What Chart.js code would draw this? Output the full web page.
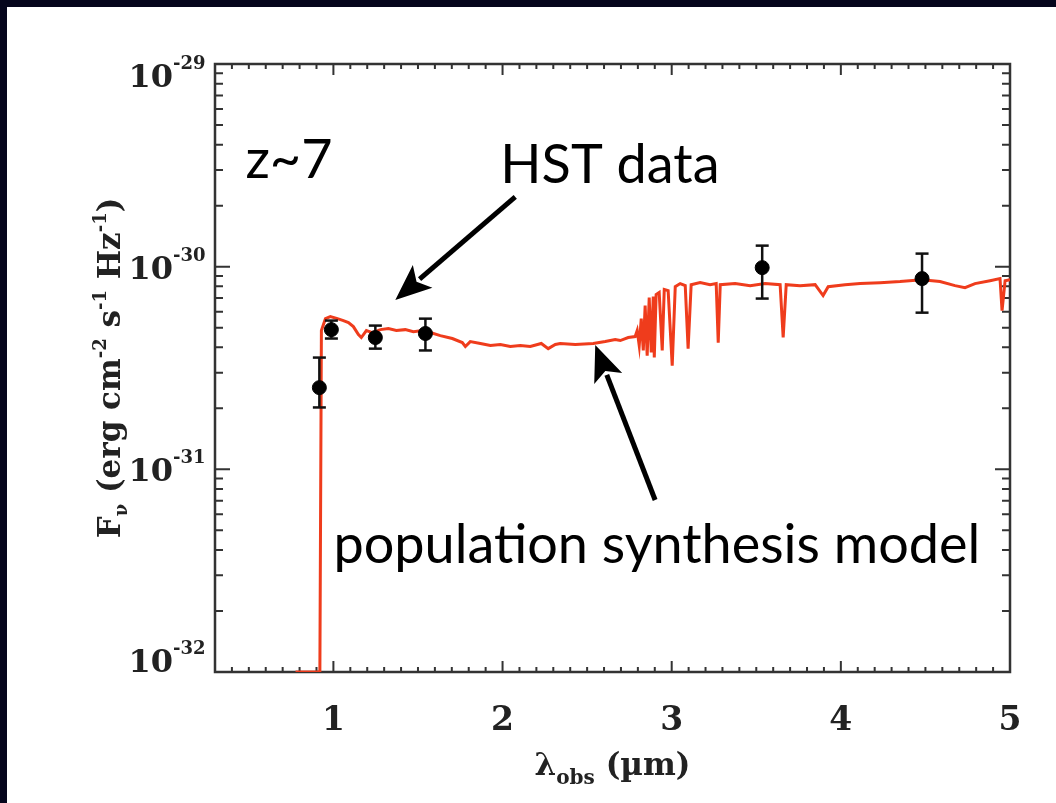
<!DOCTYPE html>
<html>
<head>
<meta charset="utf-8">
<script src="https://cdn.jsdelivr.net/npm/chart.js@4.4.0/dist/chart.umd.min.js"></script>
<style>
  html, body { margin: 0; padding: 0; width: 1056px; height: 803px; overflow: hidden; background: #05061c; }
  #panel { position: absolute; left: 7px; top: 7px; width: 1049px; height: 796px; background: #fff; }
  #panel canvas { display: block; }
</style>
</head>
<body>
<div id="panel"><canvas id="sedChart" width="1049" height="796"></canvas></div>
<script>
// model spectrum (wavelength in micron, flux in erg/cm2/s/Hz)
const modelWave = [
  0.776, 0.911, 0.920, 0.929, 0.953, 0.982, 1.024, 1.059, 1.089, 1.118,
  1.148, 1.165, 1.195, 1.230, 1.278, 1.325, 1.372, 1.425, 1.473, 1.526,
  1.573, 1.632, 1.703, 1.762, 1.780, 1.809, 1.869, 1.928, 1.987, 2.046,
  2.105, 2.164, 2.229, 2.270, 2.312, 2.341, 2.430, 2.536, 2.607, 2.666,
  2.696, 2.743, 2.784, 2.796, 2.808, 2.820, 2.832, 2.843, 2.855, 2.867,
  2.879, 2.891, 2.897, 2.908, 2.926, 2.944, 2.956, 2.979, 3.003, 3.021,
  3.050, 3.080, 3.097, 3.115, 3.168, 3.227, 3.263, 3.275, 3.287, 3.375,
  3.464, 3.552, 3.641, 3.659, 3.677, 3.759, 3.848, 3.895, 3.925, 4.025,
  4.114, 4.232, 4.350, 4.480, 4.586, 4.675, 4.734, 4.793, 4.882, 4.941,
  4.953, 4.971, 5.000
];
const modelFlux = [
  1e-32, 1e-32, 1e-32, 4.84e-31, 5.54e-31, 5.67e-31, 5.54e-31, 5.42e-31, 5.30e-31, 5.06e-31,
  4.62e-31, 4.47e-31, 4.84e-31, 4.73e-31, 4.89e-31, 4.95e-31, 4.84e-31, 4.89e-31, 4.78e-31, 4.84e-31,
  4.73e-31, 4.57e-31, 4.42e-31, 4.22e-31, 4.04e-31, 4.27e-31, 4.18e-31, 4.08e-31, 4.13e-31, 4.04e-31,
  4.08e-31, 4.04e-31, 4.18e-31, 3.94e-31, 4.13e-31, 4.18e-31, 4.13e-31, 4.18e-31, 4.27e-31, 4.37e-31,
  4.32e-31, 4.47e-31, 4.52e-31, 4.84e-31, 4.08e-31, 5.54e-31, 3.86e-31, 6.42e-31, 3.64e-31, 7.04e-31,
  3.77e-31, 7.12e-31, 3.56e-31, 7.28e-31, 7.45e-31, 3.86e-31, 7.71e-31, 7.62e-31, 3.25e-31, 7.97e-31,
  8.25e-31, 8.06e-31, 3.94e-31, 8.15e-31, 8.34e-31, 8.15e-31, 8.25e-31, 4.22e-31, 8.15e-31, 8.25e-31,
  8.06e-31, 8.25e-31, 8.15e-31, 4.47e-31, 8.15e-31, 8.06e-31, 8.15e-31, 7.20e-31, 7.97e-31, 8.15e-31,
  8.25e-31, 8.34e-31, 8.44e-31, 8.63e-31, 8.44e-31, 8.06e-31, 7.88e-31, 8.25e-31, 8.53e-31, 8.73e-31,
  6.07e-31, 8.53e-31, 8.63e-31
];

// HST / Spitzer photometry with error bars
const hstWave = [0.917, 0.988, 1.248, 1.544, 3.535, 4.480];
const hstFlux = [2.53e-31, 4.89e-31, 4.47e-31, 4.68e-31, 9.89e-31, 8.73e-31];
const hstFluxLo = [2.02e-31, 4.42e-31, 3.94e-31, 3.86e-31, 6.96e-31, 5.93e-31];
const hstFluxHi = [3.56e-31, 5.42e-31, 5.12e-31, 5.54e-31, 1.27e-30, 1.16e-30];

const xTickValues = [1, 2, 3, 4, 5];
const yTickExps = [-29, -30, -31, -32];

// annotations, in data coordinates
const labelZ = { text: 'z~7', x: 0.48, y: 2.74e-30 };
const labelHst = { text: 'HST data', x: 1.987, y: 2.59e-30 };
const labelModel = { text: 'population synthesis model', x: 1.0, y: 3.45e-32 };
const arrowHst = { x0: 2.075, y0: 2.21e-30, x1: 1.366, y1: 6.85e-31 };
const arrowModel = { x0: 2.902, y0: 7.06e-32, x1: 2.548, y1: 4.11e-31 };

const serif = '"DejaVu Serif", "Liberation Serif", serif';
const sans = 'Lato, "Open Sans", sans-serif';

const modelPoints = modelWave.map((w, i) => ({ x: w, y: modelFlux[i] }));
const hstPoints = hstWave.map((w, i) => ({ x: w, y: hstFlux[i] }));
const errorPoints = [];
hstWave.forEach((w, i) => {
  errorPoints.push({ x: w, y: hstFluxLo[i] }, { x: w, y: hstFluxHi[i] }, { x: w, y: null });
});

function drawRich(ctx, segs, x, y, align) {
  let total = 0;
  segs.forEach(s => { ctx.font = 'bold ' + s[1] + 'px ' + serif; total += ctx.measureText(s[0]).width; });
  let cx = align === 'center' ? x - total / 2 : (align === 'right' ? x - total : x);
  ctx.textAlign = 'left';
  segs.forEach(s => {
    ctx.font = 'bold ' + s[1] + 'px ' + serif;
    ctx.fillText(s[0], cx, y + s[2]);
    cx += ctx.measureText(s[0]).width;
  });
}

function drawArrow(ctx, x0, y0, x1, y1) {
  const ang = Math.atan2(y1 - y0, x1 - x0);
  const head = 36, half = 15;
  const bx = x1 - Math.cos(ang) * head, by = y1 - Math.sin(ang) * head;
  ctx.beginPath();
  ctx.moveTo(x0, y0);
  ctx.lineTo(x1 - Math.cos(ang) * (head - 4), y1 - Math.sin(ang) * (head - 4));
  ctx.lineWidth = 5;
  ctx.strokeStyle = '#000';
  ctx.stroke();
  ctx.beginPath();
  ctx.moveTo(x1, y1);
  ctx.lineTo(bx + Math.sin(ang) * half, by - Math.cos(ang) * half);
  ctx.lineTo(x1 - Math.cos(ang) * (head - 8), y1 - Math.sin(ang) * (head - 8));
  ctx.lineTo(bx - Math.sin(ang) * half, by + Math.cos(ang) * half);
  ctx.closePath();
  ctx.fillStyle = '#000';
  ctx.fill();
}

const frameAndText = {
  id: 'frameAndText',
  beforeDatasetsDraw(chart) {
    const { ctx, chartArea: a, scales: { x, y } } = chart;
    ctx.save();
    ctx.strokeStyle = '#333';
    ctx.lineWidth = 2;
    // x ticks, 0.1 micron steps, pointing inward
    for (let i = 3; i <= 50; i++) {
      const px = x.getPixelForValue(i / 10);
      const len = i % 10 === 0 ? 11 : 5;
      ctx.beginPath();
      ctx.moveTo(px, a.bottom); ctx.lineTo(px, a.bottom - len);
      ctx.moveTo(px, a.top); ctx.lineTo(px, a.top + len);
      ctx.stroke();
    }
    // y ticks, log decades with minor ticks
    for (let e = -32; e <= -29; e++) {
      for (let m = 1; m <= 9; m++) {
        if (e === -29 && m > 1) break;
        const py = y.getPixelForValue(m * Math.pow(10, e));
        const len = m === 1 ? 15 : 8;
        ctx.beginPath();
        ctx.moveTo(a.left, py); ctx.lineTo(a.left + len, py);
        ctx.moveTo(a.right, py); ctx.lineTo(a.right - len, py);
        ctx.stroke();
      }
    }
    ctx.lineWidth = 2.5;
    ctx.strokeRect(a.left, a.top, a.right - a.left, a.bottom - a.top);
    ctx.restore();
  },
  afterDatasetsDraw(chart) {
    const { ctx, scales: { x, y } } = chart;
    ctx.save();
    ctx.fillStyle = '#000';
    ctx.font = '54px ' + sans;
    ctx.textAlign = 'left';
    ctx.textBaseline = 'alphabetic';
    [labelZ, labelHst, labelModel].forEach(l => {
      ctx.fillText(l.text, x.getPixelForValue(l.x), y.getPixelForValue(l.y));
    });
    [arrowHst, arrowModel].forEach(ar => {
      drawArrow(ctx, x.getPixelForValue(ar.x0), y.getPixelForValue(ar.y0),
        x.getPixelForValue(ar.x1), y.getPixelForValue(ar.y1));
    });
    ctx.restore();
  },
  afterDraw(chart) {
    const { ctx, chartArea: a, scales: { y } } = chart;
    ctx.save();
    ctx.fillStyle = '#222';
    ctx.textBaseline = 'alphabetic';
    // y tick labels 10^n
    yTickExps.forEach(e => {
      let py = y.getPixelForValue(Math.pow(10, e));
      py = Math.min(Math.max(py, a.top + 11), a.bottom - 12);
      ctx.font = 'bold 32px ' + serif;
      ctx.textAlign = 'right';
      ctx.fillText('10', 166, py + 12);
      ctx.font = 'bold 18px ' + serif;
      ctx.textAlign = 'left';
      ctx.fillText(String(e), 166, py - 6);
    });
    // x axis title
    drawRich(ctx, [['\u03bb', 31, 0], ['obs', 20, 9], [' (\u00b5m)', 31, 0]],
      (a.left + a.right) / 2, 768, 'center');
    // y axis title
    ctx.translate(113, (a.top + a.bottom) / 2);
    ctx.rotate(-Math.PI / 2);
    drawRich(ctx, [
      ['F', 31, 0], ['\u03bd', 18, 7], [' (erg cm', 31, 0], ['-2', 18, -14],
      [' s', 31, 0], ['-1', 18, -14], [' Hz', 31, 0], ['-1', 18, -14], [')', 31, 0]
    ], 0, 0, 'center');
    ctx.restore();
  }
};

new Chart(document.getElementById('sedChart'), {
  type: 'line',
  data: {
    datasets: [
      {
        label: 'HST data',
        data: hstPoints,
        showLine: false,
        pointRadius: 7,
        pointBackgroundColor: '#000',
        pointBorderColor: '#000',
        order: 0
      },
      {
        label: 'errors',
        data: errorPoints,
        borderColor: '#111',
        borderWidth: 2.5,
        pointStyle: 'line',
        pointRadius: 6.5,
        pointBorderWidth: 2.5,
        pointBorderColor: '#111',
        spanGaps: false,
        order: 1
      },
      {
        label: 'model',
        data: modelPoints,
        borderColor: '#ef3c1c',
        borderWidth: 3,
        pointRadius: 0,
        tension: 0,
        order: 2
      }
    ]
  },
  options: {
    responsive: false,
    animation: false,
    layout: { padding: { top: 57, right: 46, left: 0, bottom: 0 } },
    plugins: { legend: { display: false }, tooltip: { enabled: false } },
    scales: {
      x: {
        type: 'linear',
        min: 0.3,
        max: 5,
        afterBuildTicks: s => { s.ticks = xTickValues.map(v => ({ value: v })); },
        afterFit: s => { s.height = 131; },
        grid: { display: false },
        border: { display: false },
        ticks: {
          font: { family: serif, size: 33, weight: 'bold' },
          color: '#222',
          padding: 22,
          maxRotation: 0,
          autoSkip: false,
          callback: v => String(v)
        }
      },
      y: {
        type: 'logarithmic',
        min: 1e-32,
        max: 1e-29,
        afterFit: s => { s.width = 208; },
        grid: { display: false },
        border: { display: false },
        ticks: { display: false }
      }
    }
  },
  plugins: [frameAndText]
});
</script>
</body>
</html>
